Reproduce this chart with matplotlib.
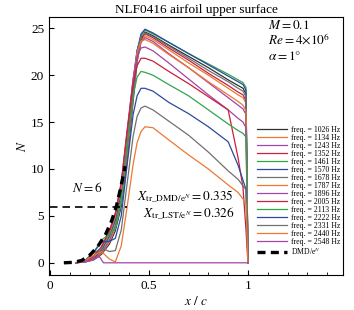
import matplotlib
matplotlib.use("Agg")
import matplotlib.pyplot as plt
from matplotlib.ticker import MultipleLocator

plt.rcParams["font.family"] = ["Liberation Serif", "DejaVu Serif"]
plt.rcParams["mathtext.fontset"] = "stix"

# x/c grid shared by the frequency curves
x_grid = [0.13, 0.18, 0.22, 0.26, 0.30, 0.33, 0.36, 0.39, 0.42, 0.44, 0.46, 0.48,
          0.52, 0.60, 0.70, 0.80, 0.90, 0.95, 0.975, 0.99, 1.0]

freqs = [1026, 1134, 1243, 1352, 1461, 1570, 1678, 1787, 1896, 2005, 2113, 2222, 2331, 2440]

n_curves = {
    1026: [0, 0.1, 0.3, 0.9, 2.0, 3.4, 6.0, 11.0, 17.2, 21.4, 23.7, 24.6,
           24.2, 23.2, 22.0, 20.8, 19.5, 18.9, 18.6, 18.0, 0],
    1134: [0, 0.1, 0.35, 1.0, 2.2, 3.7, 6.4, 11.5, 17.6, 21.6, 23.6, 24.2,
           23.8, 22.7, 21.3, 20.0, 18.6, 17.9, 17.6, 17.0, 0],
    1243: [0, 0.1, 0.4, 1.1, 2.4, 4.0, 6.8, 12.0, 18.0, 21.8, 23.5, 24.0,
           23.6, 22.3, 20.8, 19.2, 17.6, 16.8, 16.4, 15.8, 0],
    1352: [0, 0.2, 0.6, 1.6, 3.2, 5.0, 8.3, 13.8, 19.5, 22.6, 24.0, 24.4,
           24.0, 22.9, 21.6, 20.2, 18.9, 18.2, 17.9, 17.3, 0],
    1461: [0, 0.15, 0.5, 1.3, 2.7, 4.4, 7.3, 12.6, 18.6, 22.3, 24.2, 24.8,
           24.4, 23.5, 22.3, 21.2, 20.1, 19.5, 19.2, 18.7, 0],
    1570: [0, 0.15, 0.5, 1.4, 2.9, 4.6, 7.6, 13.0, 19.0, 22.6, 24.4, 24.9,
           24.5, 23.5, 22.3, 21.1, 19.9, 19.3, 19.0, 18.4, 0],
    1678: [0, 0.15, 0.6, 1.5, 3.0, 4.8, 7.9, 13.4, 19.3, 22.6, 24.1, 24.5,
           24.1, 23.1, 21.8, 20.5, 19.3, 18.6, 18.3, 17.7, 0],
    1787: [0, 0.2, 0.6, 1.6, 3.2, 5.0, 8.2, 13.8, 19.5, 22.4, 23.6, 23.8,
           23.4, 22.2, 20.8, 19.3, 17.9, 17.2, 16.8, 16.2, 0],
    1896: [0, 0.2, 0.7, 1.7, 3.4, 5.3, 8.6, 14.2, 19.6, 22.0, 22.9, 23.0,
           22.6, 21.3, 19.6, 17.9, 16.3, 15.4, 15.0, 14.4, 0],
    2005: [0, 0.2, 0.7, 1.7, 3.4, 5.2, 8.5, 14.0, 19.0, 21.0, 21.8, 21.8,
           21.5, 20.4, 19.1, 17.7, 16.3, 11.2, 8.0, 3.5, 0],
    2113: [0, 0.3, 1.1, 2.4, 3.1, 3.6, 6.5, 12.5, 17.8, 19.8, 20.4, 20.3,
           20.0, 19.0, 17.8, 16.3, 14.8, 14.1, 13.8, 13.4, 0],
    2222: [0, 0.3, 1.1, 2.2, 2.3, 2.6, 5.0, 10.5, 15.8, 17.8, 18.6, 18.6,
           18.3, 17.1, 15.9, 14.5, 12.9, 10.4, 8.8, 7.8, 0],
    2331: [0, 0.3, 1.0, 1.6, 1.2, 1.3, 3.5, 8.5, 13.5, 15.6, 16.5, 16.7,
           16.3, 15.1, 13.6, 11.8, 9.8, 8.9, 8.2, 7.8, 0],
    2440: [0, 0.25, 0.8, 1.2, 0.4, 0.1, 1.8, 6.0, 10.5, 12.8, 14.0, 14.5,
           14.4, 13.1, 11.5, 10.0, 8.3, 7.5, 6.8, 6.3, 0],
}

# highest frequency: small hump then damped to zero
x_2548 = [0.13, 0.18, 0.22, 0.25, 0.27, 1.0]
n_2548 = [0, 0.15, 0.4, 0.65, 0.0, 0.0]

# DMD / e^N curve
x_dmd = [0.07, 0.12, 0.16, 0.20, 0.24, 0.28, 0.31, 0.335, 0.355, 0.37, 0.38]
n_dmd = [0, 0.05, 0.25, 0.8, 1.7, 3.0, 4.4, 6.0, 7.8, 9.3, 10.3]

colors = ["#303030", "#ee7733", "#a443a8", "#c8203a", "#2fa64e", "#2b4a9c", "#707070",
          "#ee7733", "#a443a8", "#c8203a", "#2fa64e", "#2b4a9c", "#707070", "#ee7733",
          "#a443a8"]

fig = plt.figure(figsize=(3.54, 3.10), dpi=100)
ax = fig.add_axes([0.1384, 0.1129, 0.8305, 0.8323])

for i, f in enumerate(freqs):
    ax.plot(x_grid, n_curves[f], color=colors[i], lw=0.9, label=f"freq. = {f} Hz")
ax.plot(x_2548, n_2548, color=colors[14], lw=0.9, label="freq. = 2548 Hz")
ax.plot(x_dmd, n_dmd, color="black", lw=2.4, dashes=(2.4, 1.6), label=r"DMD/e$^N$")

# N = 6 threshold
ax.plot([0, 0.39], [6, 6], color="black", lw=1.2, dashes=(4.5, 3))

ax.text(0.11, 7.5, r"$N = 6$", fontsize=9.5)
ax.text(0.44, 6.7, r"$X_{\mathrm{tr\_DMD/e}^N} = 0.335$", fontsize=9.5)
ax.text(0.47, 4.9, r"$X_{\mathrm{tr\_LST/e}^N} = 0.326$", fontsize=9.5)

ax.text(1.1, 24.9, r"$M = 0.1$", fontsize=9.5)
ax.text(1.1, 23.2, r"$Re = 4{\times}10^6$", fontsize=9.5)
ax.text(1.1, 21.6, r"$\alpha = 1°$", fontsize=9.5)

ax.set_xlim(-0.005, 1.48)
ax.set_ylim(-1.3, 26.2)
ax.xaxis.set_minor_locator(MultipleLocator(0.1))
ax.yaxis.set_major_locator(MultipleLocator(5))
ax.set_xticks([0, 0.5, 1])
ax.set_xticklabels(["0", "0.5", "1"])
ax.tick_params(direction="in", labelsize=9.5, length=3.5, width=0.8)
ax.tick_params(which="minor", direction="in", length=2, width=0.6)

ax.set_title("NLF0416 airfoil upper surface", fontsize=9.5, pad=3)
ax.set_xlabel(r"$x\ /\ c$", fontsize=9.5, labelpad=2)
ax.set_ylabel(r"$N$", fontsize=9.5, labelpad=1)

ax.legend(loc="lower right", bbox_to_anchor=(0.99, 0.07), fontsize=5.6, frameon=False,
          handlelength=3.8, labelspacing=0.0, borderpad=0, borderaxespad=0, handletextpad=0.5)

fig.savefig("out.png", dpi=100)
